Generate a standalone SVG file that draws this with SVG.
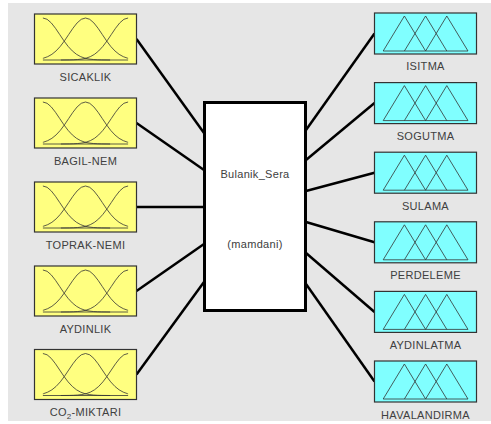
<svg xmlns="http://www.w3.org/2000/svg" xmlns:xlink="http://www.w3.org/1999/xlink" width="491" height="424" viewBox="0 0 491 424">
<style>
.bg{fill:#e6e6e6}
.in{fill:#ffff80;stroke:#333;stroke-width:1.2}
.out{fill:#80ffff;stroke:#333;stroke-width:1.2}
.mf{fill:none;stroke:#333;stroke-width:0.8;stroke-linejoin:round}
.lbl{font-family:"Liberation Sans",Arial,sans-serif;font-size:11px;fill:#404040;text-anchor:middle;letter-spacing:0.3px}
.sys{fill:#fff;stroke:#000;stroke-width:3}
.con line{stroke:#000;stroke-width:2.5;stroke-linecap:butt}
</style>
<defs>
<g id="mfIn">
<rect class="in" x="0" y="0" width="102" height="50"/>
<path class="mf" d="M8.4,4 L12.6,5.29 16.8,8.93 21,14.3 25.2,20.53 29.4,26.77 33.6,32.36 37.8,36.92 42,40.32 46.2,42.66 50.4,44.16 54.6,45.04 58.8,45.53 63,45.79 67.2,45.91 75.6,46"/>
<path class="mf" d="M93.6,4 L89.4,5.29 85.2,8.93 81,14.3 76.8,20.53 72.6,26.77 68.4,32.36 64.2,36.92 60,40.32 55.8,42.66 51.6,44.16 47.4,45.04 43.2,45.53 39,45.79 34.8,45.91 26.4,46"/>
<path class="mf" d="M8.4,44.3 L9,44.16 13.2,42.66 17.4,40.32 21.6,36.92 25.8,32.36 30,26.77 34.2,20.53 38.4,14.3 42.6,8.93 46.8,5.29 51,4 55.2,5.29 59.4,8.93 63.6,14.3 67.8,20.53 72,26.77 76.2,32.36 80.4,36.92 84.6,40.32 88.8,42.66 93,44.16 93.6,44.3"/>
<path class="mf" d="M8.4,46 H93.6"/>
</g>
<g id="mfOut">
<rect class="out" x="0" y="0" width="102" height="41"/>
<path class="mf" d="M8.7,38 L29.9,3 51.1,38 M29.9,38 L51.1,3 72.3,38 M51.1,38 L72.3,3 93.5,38 M8.7,38 H93.5"/>
</g>
</defs>
<rect class="bg" x="8" y="3" width="483" height="418"/>
<g id="connectors" class="con">
<line x1="136.5" y1="39" x2="204" y2="133"/>
<line x1="136.5" y1="123" x2="204" y2="170"/>
<line x1="136.5" y1="207" x2="204" y2="207"/>
<line x1="136.5" y1="291" x2="204" y2="244"/>
<line x1="136.5" y1="374.5" x2="204" y2="282"/>
<line x1="306" y1="130" x2="374.5" y2="33.5"/>
<line x1="306" y1="160" x2="374.5" y2="103"/>
<line x1="306" y1="191" x2="374.5" y2="172.7"/>
<line x1="306" y1="222" x2="374.5" y2="242.3"/>
<line x1="306" y1="253" x2="374.5" y2="312"/>
<line x1="306" y1="284" x2="374.5" y2="381.5"/>
</g>
<g id="sicaklik"><use xlink:href="#mfIn" x="34.5" y="14"/><text class="lbl" x="85.5" y="80.5">SICAKLIK</text></g>
<g id="bagil-nem"><use xlink:href="#mfIn" x="34.5" y="98"/><text class="lbl" x="85.5" y="164.5">BAGIL-NEM</text></g>
<g id="toprak-nemi"><use xlink:href="#mfIn" x="34.5" y="182"/><text class="lbl" x="85.5" y="248.5">TOPRAK-NEMI</text></g>
<g id="aydinlik"><use xlink:href="#mfIn" x="34.5" y="266"/><text class="lbl" x="85.5" y="332.5">AYDINLIK</text></g>
<g id="co2-miktari"><use xlink:href="#mfIn" x="34.5" y="349.5"/><text class="lbl" x="85.5" y="416">CO<tspan font-size="8" dy="3">2</tspan><tspan dy="-3">-MIKTARI</tspan></text></g>
<g id="bulanik-sera">
<rect class="sys" x="204.5" y="102.5" width="101" height="208"/>
<text class="lbl" x="255" y="178">Bulanik_Sera</text>
<text class="lbl" x="255" y="248">(mamdani)</text>
</g>
<g id="isitma"><use xlink:href="#mfOut" x="374.5" y="13"/><text class="lbl" x="425.5" y="70">ISITMA</text></g>
<g id="sogutma"><use xlink:href="#mfOut" x="374.5" y="82.6"/><text class="lbl" x="425.5" y="139.8">SOGUTMA</text></g>
<g id="sulama"><use xlink:href="#mfOut" x="374.5" y="152.2"/><text class="lbl" x="425.5" y="209.5">SULAMA</text></g>
<g id="perdeleme"><use xlink:href="#mfOut" x="374.5" y="221.8"/><text class="lbl" x="425.5" y="279.3">PERDELEME</text></g>
<g id="aydinlatma"><use xlink:href="#mfOut" x="374.5" y="291.4"/><text class="lbl" x="425.5" y="349">AYDINLATMA</text></g>
<g id="havalandirma"><use xlink:href="#mfOut" x="374.5" y="361"/><text class="lbl" x="425.5" y="418.6">HAVALANDIRMA</text></g>
</svg>
